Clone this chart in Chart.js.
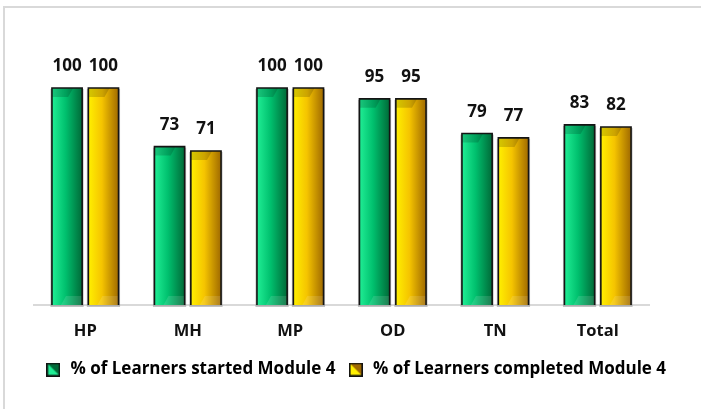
<!DOCTYPE html>
<html>
<head>
<meta charset="utf-8">
<script src="https://cdn.jsdelivr.net/npm/chart.js@4"></script>
<style>
  body { margin: 0; background: #fff; overflow: hidden; }
  .wrap { position: relative; width: 701px; height: 409px; }
  .frame { position: absolute; left: 3px; top: 6px; width: 800px; height: 500px; border: 2px solid #d9d9d9; }
  canvas { position: absolute; left: 0; top: 0; }
</style>
</head>
<body>
<div class="wrap">
  <div class="frame"></div>
  <canvas id="myChart" width="701" height="409"></canvas>
</div>
<script>
const categories = ['HP', 'MH', 'MP', 'OD', 'TN', 'Total'];
const started = [100, 73, 100, 95, 79, 83];
const completed = [100, 71, 100, 95, 77, 82];
const seriesNames = ['% of Learners started Module 4', '% of Learners completed Module 4'];

// light / mid / dark shades for the bevel look
const shades = [
  ['#20ee95', '#00c06e', '#006a38'],
  ['#fff000', '#f5c400', '#a06a00']
];

const FONT = '"Open Sans", sans-serif';

function legendIcon(s) {
  const c = document.createElement('canvas');
  c.width = 14; c.height = 14;
  const g = c.getContext('2d');
  g.fillStyle = s[2];
  g.fillRect(0, 0, 14, 14);
  g.fillStyle = s[0];
  g.beginPath();
  g.moveTo(1, 1); g.lineTo(13, 13); g.lineTo(1, 13); g.closePath();
  g.fill();
  g.strokeStyle = '#111';
  g.lineWidth = 1.6;
  g.strokeRect(0.8, 0.8, 12.4, 12.4);
  return c;
}
const icons = shades.map(legendIcon);

const bevelBars = {
  id: 'bevelBars',
  afterDatasetsDraw(chart) {
    const ctx = chart.ctx;
    chart.data.datasets.forEach((ds, di) => {
      const meta = chart.getDatasetMeta(di);
      const s = shades[di];
      meta.data.forEach((bar, i) => {
        const p = bar.getProps(['x', 'y', 'base', 'width'], true);
        const x0 = p.x - p.width / 2, x1 = p.x + p.width / 2;
        const y0 = p.y, y1 = p.base;
        const b = Math.min(9, p.width / 3);
        ctx.save();
        // side shadow
        ctx.fillStyle = 'rgba(120,120,120,0.45)';
        ctx.fillRect(x0 - 1.5, y0 + 1, p.width + 3, y1 - y0 + 1);
        const grad = ctx.createLinearGradient(x0, 0, x1, 0);
        grad.addColorStop(0, s[0]);
        grad.addColorStop(0.45, s[1]);
        grad.addColorStop(1, s[2]);
        ctx.fillStyle = grad;
        ctx.fillRect(x0, y0, p.width, y1 - y0);
        // top bevel: darker wedge in the top-left corner
        ctx.fillStyle = 'rgba(0,0,0,0.16)';
        ctx.beginPath();
        ctx.moveTo(x0, y0); ctx.lineTo(x1 - b, y0); ctx.lineTo(x0 + b * 1.8, y0 + b);
        ctx.lineTo(x0, y0 + b); ctx.closePath();
        ctx.fill();
        // bottom bevel: lighter wedge in the bottom-right corner
        ctx.fillStyle = 'rgba(255,255,255,0.12)';
        ctx.beginPath();
        ctx.moveTo(x1, y1); ctx.lineTo(x0 + b, y1); ctx.lineTo(x1 - b * 1.8, y1 - b);
        ctx.lineTo(x1, y1 - b); ctx.closePath();
        ctx.fill();
        // outline
        ctx.strokeStyle = '#141414';
        ctx.lineWidth = 1.6;
        ctx.beginPath();
        ctx.moveTo(x0, y1); ctx.lineTo(x0, y0); ctx.lineTo(x1, y0); ctx.lineTo(x1, y1);
        ctx.stroke();
        // value label
        ctx.fillStyle = '#111';
        ctx.font = 'bold 17px ' + FONT;
        ctx.textAlign = 'center';
        ctx.textBaseline = 'alphabetic';
        ctx.fillText(String(ds.data[i]), p.x, y0 - 17);
        ctx.restore();
      });
    });
  }
};

const hiddenAxis = (pos, w) => ({
  type: 'linear',
  position: pos,
  display: true,
  min: 0,
  max: 100,
  ticks: { display: false },
  grid: { display: false, drawTicks: false },
  border: { display: false },
  afterFit: (s) => { s.width = w; }
});

new Chart(document.getElementById('myChart').getContext('2d'), {
  type: 'bar',
  data: {
    labels: categories,
    datasets: [
      { label: seriesNames[0], data: started, backgroundColor: shades[0][1], yAxisID: 'y' },
      { label: seriesNames[1], data: completed, backgroundColor: shades[1][1], yAxisID: 'y' }
    ]
  },
  options: {
    responsive: false,
    animation: false,
    events: [],
    categoryPercentage: 0.71,
    barPercentage: 0.83,
    layout: { padding: { left: 20, right: 10, top: 88, bottom: 21 } },
    scales: {
      x: {
        grid: { display: false, drawTicks: false },
        border: { display: true, color: '#d9d9d9', width: 2 },
        ticks: { color: '#111', font: { family: FONT, size: 16.5, weight: 'bold' }, padding: 16 },
        afterFit: (s) => { s.height = 44; }
      },
      y: hiddenAxis('left', 14),
      y2: hiddenAxis('right', 42)
    },
    plugins: {
      tooltip: { enabled: false },
      legend: {
        position: 'bottom',
        labels: {
          color: '#111',
          font: { family: FONT, size: 17, weight: 'bold' },
          padding: 12,
          usePointStyle: true,
          generateLabels: (chart) => chart.data.datasets.map((ds, i) => ({
            text: ds.label,
            pointStyle: icons[i],
            fillStyle: shades[i][1],
            strokeStyle: '#111',
            lineWidth: 0,
            hidden: false,
            datasetIndex: i
          }))
        }
      }
    }
  },
  plugins: [bevelBars]
});
</script>
</body>
</html>
